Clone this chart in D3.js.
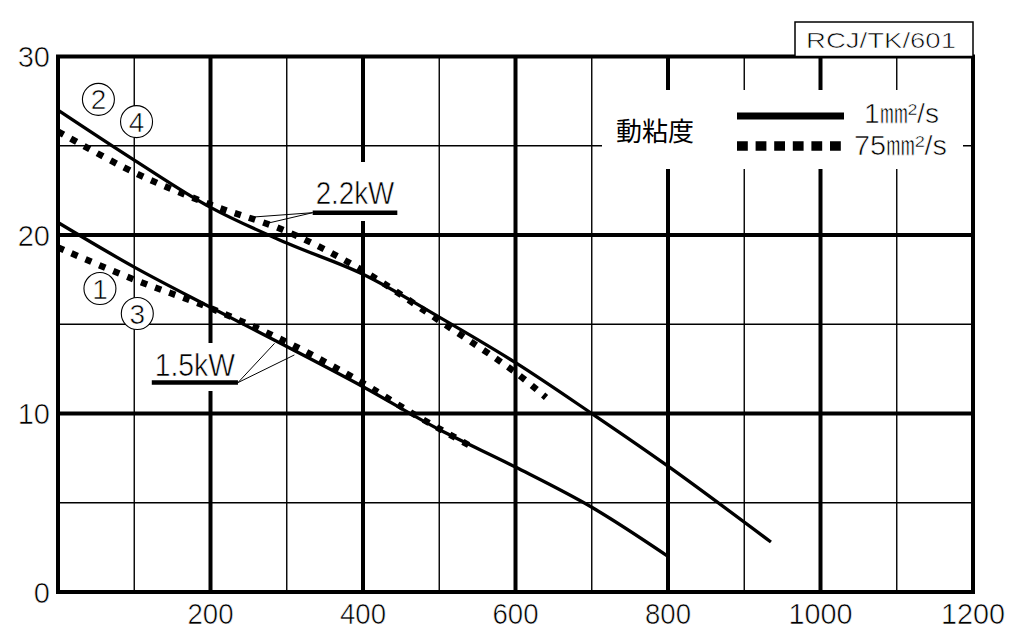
<!DOCTYPE html>
<html>
<head>
<meta charset="utf-8">
<script src="https://cdn.jsdelivr.net/npm/d3@7"></script>
<style>
  html, body { margin: 0; padding: 0; background: #fff; }
  svg { display: block; }
  .thin { stroke: #fff; stroke-width: 0.6px; }
</style>
</head>
<body>
<svg id="chart" width="1031" height="644"></svg>
<script>
// ---------------- data ----------------
const xTickLabels = [200, 400, 600, 800, 1000, 1200];
const yTickLabels = [0, 10, 20, 30];
const xMajorGrid = [200, 400, 600, 800, 1000];
const xMinorGrid = [100, 300, 500, 700, 900, 1100];
const yMajorGrid = [10, 20];
const yMinorGrid = [5, 15, 25];

// curve ① 1.5kW, 1 mm2/s (solid)
const curve1 = [[0,20.7],[100,18.2],[200,15.95],[300,13.75],[400,11.5],[500,9.1],[600,7.0],[700,4.75],[800,2.0]];
// curve ③ 1.5kW, 75 mm2/s (dotted)
const curve3 = [[0,19.3],[100,17.5],[200,15.9],[300,14.0],[400,11.7],[465,10.0],[540,8.2]];
// curve ② 2.2kW, 1 mm2/s (solid)
const curve2 = [[0,27.0],[100,24.2],[200,21.55],[300,19.55],[400,17.8],[500,15.4],[600,12.85],[700,10.0],[800,7.05],[935,2.8]];
// curve ④ 2.2kW, 75 mm2/s (dotted)
const curve4 = [[0,25.8],[100,23.5],[200,21.7],[300,20.2],[400,18.0],[500,15.2],[600,12.3],[640,10.9]];

const seriesNames = ["1㎜²/s", "75㎜²/s"];
const legendTitle = "動粘度";
const codeLabel = "RCJ/TK/601";
const powerLabels = ["2.2kW", "1.5kW"];
// annotation anchors (data units): label underline start/end, leader targets
const label22 = {x0: 334, x1: 445, y: 21.25, targets: [[254, 21.0], [269, 20.6]]};
const label15 = {x0: 123, x1: 236, y: 11.73, targets: [[284, 13.93], [310, 13.28]]};
const circled = [
  {n: "2", x: 53, y: 27.6}, {n: "4", x: 103, y: 26.35},
  {n: "1", x: 55, y: 17.0}, {n: "3", x: 104, y: 15.6}
];

// ---------------- drawing ----------------
const svg = d3.select("#chart");
const x = d3.scaleLinear().domain([0, 1200]).range([58, 973]);
const y = d3.scaleLinear().domain([0, 30]).range([592, 56.5]);
const numFont = "'Liberation Sans', Arial, sans-serif";
const narrowFont = "'Liberation Sans Narrow', 'Arial Narrow', 'Liberation Sans', sans-serif";
const jpFont = "'Noto Sans CJK JP', sans-serif";

// grid
const g = svg.append("g");
g.selectAll(".vmin").data(xMinorGrid).join("line")
  .attr("x1", d => x(d)).attr("x2", d => x(d)).attr("y1", y(0)).attr("y2", y(30))
  .attr("stroke", "#000").attr("stroke-width", 1.4);
g.selectAll(".hmin").data(yMinorGrid).join("line")
  .attr("x1", x(0)).attr("x2", x(1200)).attr("y1", d => y(d)).attr("y2", d => y(d))
  .attr("stroke", "#000").attr("stroke-width", 1.4);
g.selectAll(".vmaj").data(xMajorGrid).join("line")
  .attr("x1", d => x(d)).attr("x2", d => x(d)).attr("y1", y(0)).attr("y2", y(30))
  .attr("stroke", "#000").attr("stroke-width", 4);
g.selectAll(".hmaj").data(yMajorGrid).join("line")
  .attr("x1", x(0)).attr("x2", x(1200)).attr("y1", d => y(d)).attr("y2", d => y(d))
  .attr("stroke", "#000").attr("stroke-width", 4);

// white boxes (legend + labels)
svg.append("rect").attr("x", 602).attr("y", 90).attr("width", 361).attr("height", 79).attr("fill", "#fff");
svg.append("rect").attr("x", x(label22.x0) - 4).attr("y", 162).attr("width", x(label22.x1) - x(label22.x0) + 8).attr("height", 59).attr("fill", "#fff");
svg.append("rect").attr("x", x(label15.x0) - 4).attr("y", 343).attr("width", x(label15.x1) - x(label15.x0) + 8).attr("height", 48).attr("fill", "#fff");

// border
svg.append("rect").attr("x", x(0)).attr("y", y(30)).attr("width", x(1200) - x(0)).attr("height", y(0) - y(30))
  .attr("fill", "none").attr("stroke", "#000").attr("stroke-width", 4);

// code box
svg.append("rect").attr("x", 795).attr("y", 22).attr("width", x(1200) - 795).attr("height", y(30) - 22)
  .attr("fill", "#fff").attr("stroke", "#000").attr("stroke-width", 1.5);
svg.append("text").attr("class", "thin").attr("x", 806).attr("y", 48).attr("font-family", numFont).attr("font-size", 22)
  .attr("textLength", 150).attr("lengthAdjust", "spacingAndGlyphs").text(codeLabel);

// curves
const line = d3.line().x(d => x(d[0])).y(d => y(d[1])).curve(d3.curveCatmullRom.alpha(0.5));
const solidStyle = s => s.attr("fill", "none").attr("stroke", "#000").attr("stroke-width", 3.3);
const dotStyle = s => s.attr("fill", "none").attr("stroke", "#000").attr("stroke-width", 6.5).attr("stroke-dasharray", "6.5,8.5");
svg.append("path").datum(curve1).attr("d", line).call(solidStyle);
svg.append("path").datum(curve2).attr("d", line).call(solidStyle);
svg.append("path").datum(curve3).attr("d", line).call(dotStyle);
svg.append("path").datum(curve4).attr("d", line).call(dotStyle);

// labels with underlines + leaders
function powerLabel(lab, text, leaderFromRight, baseOffset) {
  const yy = y(lab.y);
  svg.append("line").attr("x1", x(lab.x0)).attr("x2", x(lab.x1)).attr("y1", yy).attr("y2", yy)
    .attr("stroke", "#000").attr("stroke-width", 4.5);
  const ox = leaderFromRight ? x(lab.x1) : x(lab.x0);
  lab.targets.forEach(t => {
    svg.append("line").attr("x1", ox).attr("y1", yy).attr("x2", x(t[0])).attr("y2", y(t[1]))
      .attr("stroke", "#000").attr("stroke-width", 1);
  });
  svg.append("text").attr("class", "thin").attr("x", x(lab.x0) + 3).attr("y", yy - baseOffset)
    .attr("font-family", narrowFont).attr("font-size", 32)
    .attr("textLength", x(lab.x1) - x(lab.x0) - 6).attr("lengthAdjust", "spacingAndGlyphs").text(text);
}
powerLabel(label22, powerLabels[0], false, 9);
powerLabel(label15, powerLabels[1], true, 7);

// circled numbers
const cg = svg.selectAll(".circ").data(circled).join("g")
  .attr("transform", d => `translate(${x(d.x)},${y(d.y)})`);
cg.append("circle").attr("r", 16).attr("fill", "#fff").attr("stroke", "#000").attr("stroke-width", 1.1);
cg.append("text").attr("class", "thin").attr("text-anchor", "middle").attr("y", 10)
  .attr("font-family", numFont).attr("font-size", 28).text(d => d.n);

// legend
svg.append("text").attr("x", 616).attr("y", 141).attr("font-family", jpFont).attr("font-size", 26).text(legendTitle);
svg.append("line").attr("x1", 737).attr("x2", 844).attr("y1", 116).attr("y2", 116)
  .attr("stroke", "#000").attr("stroke-width", 6.8);
svg.append("line").attr("x1", 737).attr("x2", 841).attr("y1", 146).attr("y2", 146)
  .attr("stroke", "#000").attr("stroke-width", 9.5).attr("stroke-dasharray", "10.8,7.8");
svg.append("text").attr("class", "thin").attr("x", 864).attr("y", 123).attr("font-family", numFont + ", " + jpFont).attr("font-size", 27)
  .attr("textLength", 75).attr("lengthAdjust", "spacingAndGlyphs").text(seriesNames[0]);
svg.append("text").attr("class", "thin").attr("x", 854).attr("y", 155).attr("font-family", numFont + ", " + jpFont).attr("font-size", 27)
  .attr("textLength", 93).attr("lengthAdjust", "spacingAndGlyphs").text(seriesNames[1]);

// axes tick labels
svg.selectAll(".xl").data(xTickLabels).join("text").attr("class", "thin")
  .attr("x", d => x(d)).attr("y", 624).attr("text-anchor", "middle")
  .attr("font-family", narrowFont).attr("font-size", 30)
  .attr("textLength", d => String(d).length === 4 ? 64 : 46).attr("lengthAdjust", "spacingAndGlyphs")
  .text(d => d);
svg.selectAll(".yl").data(yTickLabels).join("text").attr("class", "thin")
  .attr("x", 50).attr("y", d => y(d) + 10.5).attr("text-anchor", "end")
  .attr("font-family", numFont).attr("font-size", 29)
  .text(d => d);
</script>
</body>
</html>
